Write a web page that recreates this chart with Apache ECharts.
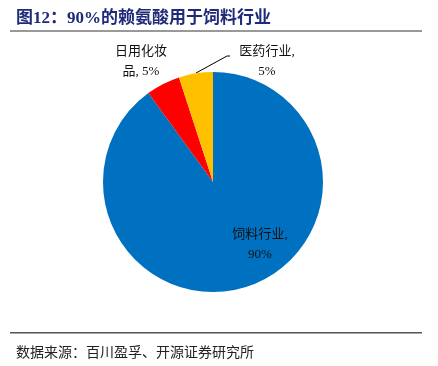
<!DOCTYPE html>
<html>
<head>
<meta charset="utf-8">
<script src="https://cdn.jsdelivr.net/npm/echarts@6/dist/echarts.min.js"></script>
<style>
  html, body { margin: 0; padding: 0; background: #fff; }
  #main { width: 438px; height: 366px; }
</style>
</head>
<body>
<div id="main"></div>
<script>
// 数据
var names = ['饲料行业', '日用化妆品', '医药行业']
var values = [90, 5, 5]
var colors = ['#0070C0', '#FF0000', '#FFC000']

var fontMix = "'Liberation Serif', 'Noto Sans CJK SC', serif"

var chart = echarts.init(document.getElementById('main'))

var pieData = names.map(function (n, i) {
  var item = { name: n, value: values[i], itemStyle: { color: colors[i] } }
  if (i !== 2) item.labelLine = { show: false } // 只有医药行业有引导线
  return item
})

var option = {
  backgroundColor: '#fff',
  animation: false,
  title: [{
    text: '图12：90%的赖氨酸用于饲料行业',
    left: 11,
    top: 5,
    textStyle: {
      color: '#1F2A7A',
      fontSize: 17,
      fontWeight: 'bold',
      fontFamily: fontMix
    }
  }, {
    text: '数据来源：百川盈孚、开源证券研究所',
    left: 11,
    top: 340,
    textStyle: {
      color: '#222',
      fontSize: 14,
      fontWeight: 'normal',
      fontFamily: 'Noto Sans CJK SC'
    }
  }],
  graphic: [
    { type: 'rect', shape: { x: 10, y: 30, width: 412, height: 2 }, style: { fill: '#999' } },
    { type: 'rect', shape: { x: 10, y: 332, width: 412, height: 1.5 }, style: { fill: '#555' } }
  ],
  series: [{
    type: 'pie',
    center: [213, 182],
    radius: 110,
    startAngle: 90,
    clockwise: true,
    data: pieData,
    label: {
      show: true,
      color: '#111',
      fontSize: 13,
      lineHeight: 20,
      fontFamily: fontMix,
      formatter: function (p) {
        if (p.dataIndex === 1) return '日用化妆\n品, ' + p.value + '%'
        return p.name + ',\n' + p.value + '%'
      }
    },
    labelLine: { show: true, length: 10, length2: 10, lineStyle: { color: '#000', width: 1 } },
    labelLayout: function (params) {
      if (params.dataIndex === 0) {
        return { x: 260, y: 245, align: 'center', verticalAlign: 'middle' }
      }
      if (params.dataIndex === 1) {
        return { x: 141, y: 62, align: 'center', verticalAlign: 'middle' }
      }
      return {
        x: 267, y: 62, align: 'center', verticalAlign: 'middle',
        labelLinePoints: [[196, 73], [227, 56], [230, 56]]
      }
    }
  }]
}

chart.setOption(option)
</script>
</body>
</html>
